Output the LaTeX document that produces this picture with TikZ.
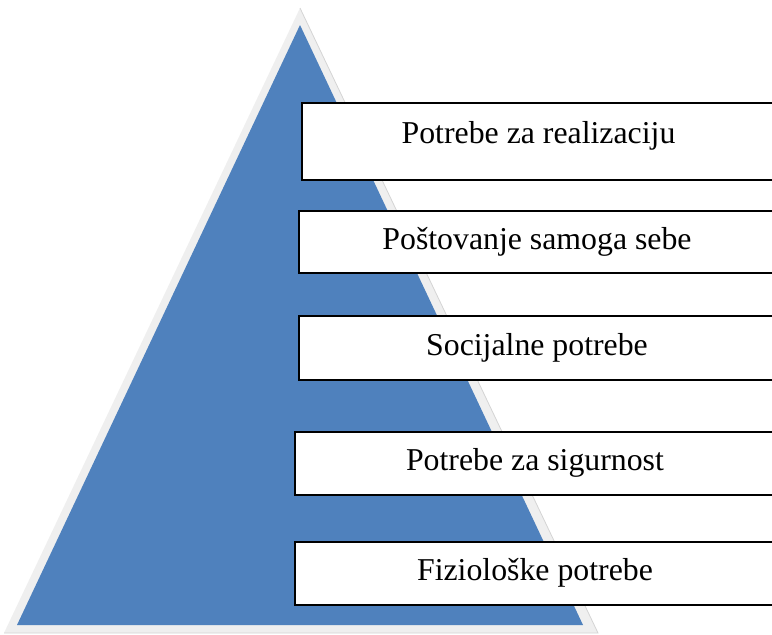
\documentclass[tikz,border=0pt]{standalone}
\usepackage{fontspec}
\setmainfont{Liberation Serif}
\definecolor{pyrblue}{HTML}{4F81BD}
\definecolor{pyrgray}{HTML}{EFEFEF}
\definecolor{pyredge}{HTML}{D4D4D4}
\tikzset{
  levelbox/.style={draw=black, line width=2pt, fill=white, rectangle, inner sep=0pt,
    font=\fontsize{31.8}{38}\selectfont, text height=21pt, text depth=7pt},
}
\begin{document}
\begin{tikzpicture}[x=1pt,y=-1pt]
\useasboundingbox (0,0) rectangle (772,635);
% outer light border of pyramid
\coordinate (oa) at (300,8);
\coordinate (ol) at (4,633);
\coordinate (or) at (598,633);
\fill[pyrgray] (oa) -- (ol) -- (or) -- cycle;
\draw[pyredge, line width=0.8pt] (oa) -- (or) -- (ol);
% blue pyramid
\coordinate (ba) at (300,25);
\coordinate (bl) at (17,625);
\coordinate (br) at (583,625);
\fill[pyrblue] (ba) -- (bl) -- (br) -- cycle;
% boxes
\node[levelbox, minimum width=473pt, minimum height=77pt] (b1) at (538.5,141.5) {\raisebox{5pt}{Potrebe za realizaciju}};
\node[levelbox, minimum width=476pt, minimum height=62pt] (b2) at (537,242) {Poštovanje samoga sebe};
\node[levelbox, minimum width=476pt, minimum height=64pt] (b3) at (537,348) {Socijalne potrebe};
\node[levelbox, minimum width=480pt, minimum height=63pt] (b4) at (535,463.5) {Potrebe za sigurnost};
\node[levelbox, minimum width=480pt, minimum height=63pt] (b5) at (535,573.5) {Fiziološke potrebe};
\end{tikzpicture}
\end{document}
